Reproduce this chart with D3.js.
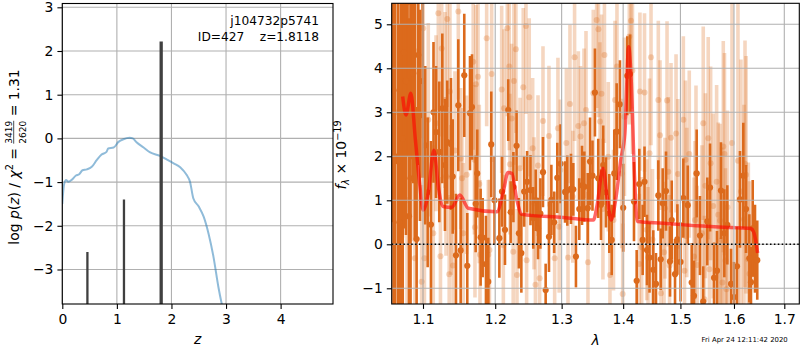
<!DOCTYPE html>
<html>
<head>
<meta charset="utf-8">
<script src="https://cdn.jsdelivr.net/npm/d3@7"></script>
<style>
body { margin: 0; background: #fff; }
text { font-family: "DejaVu Sans", sans-serif; white-space: pre; }
</style>
</head>
<body>
<svg id="chart" width="800" height="350"></svg>
<script>
// ---- left panel: redshift probability ----
var pzZ = [0.0, 0.03, 0.067, 0.11, 0.17, 0.25, 0.31, 0.37, 0.45, 0.54, 0.63, 0.72, 0.81, 0.84, 0.94,
  1.03, 1.12, 1.23, 1.29, 1.36, 1.49, 1.61, 1.79, 1.91, 2.04, 2.16, 2.28, 2.34, 2.40, 2.50, 2.59,
  2.68, 2.77, 2.86, 2.92, 2.96];
var pzLog = [-1.5, -1.07, -0.95, -0.99, -0.95, -0.85, -0.82, -0.73, -0.71, -0.65, -0.50, -0.37, -0.31, -0.23, -0.21,
  -0.08, -0.02, 0.015, 0.0, -0.09, -0.21, -0.32, -0.40, -0.48, -0.57, -0.66, -0.84, -0.99, -1.37, -1.56, -1.79,
  -2.18, -2.71, -3.40, -3.78, -4.0];
var peakZ = [0.46, 1.13, 1.8118];
var peakLog = [-2.6, -1.4, 2.22];
var zTicks = [0, 1, 2, 3, 4];
var pzTicks = [-3, -2, -1, 0, 1, 2, 3];

// ---- right panel: spectrum ----
var darkWave = [1.0597,1.0616,1.0635,1.0674,1.0693,1.0712,1.0735,1.0751,1.0777,1.0797,
  1.0816,1.0836,1.0855,1.0872,1.0894,1.0916,1.0938,
  1.0960,1.0995,1.1030,1.1062,1.1106,1.1140,1.1174,1.1218,1.1259,1.1295,
  1.1326,1.1377,1.1401,1.1446,1.1478,1.1511,1.1561,1.1603,1.1641,1.1669,
  1.1721,1.1743,1.1791,1.1820,1.1867,1.1900,1.1943,1.1990,1.2060,1.2099,
  1.2142,1.2190,1.2225,1.2266,1.2313,1.2347,1.2384,1.2426,1.2470,1.2521,
  1.2563,1.2600,1.2635,1.2671,1.2711,1.2752,1.2803,1.2840,1.2883,1.2932,
  1.2983,1.3053,1.3089,1.3147,1.3184,1.3226,1.3279,1.3323,1.3360,1.3415,
  1.3452,1.3492,1.3532,1.3586,1.3631,1.3668,1.3713,1.3768,1.3808,1.3851,
  1.3891,1.3946,1.4001,1.4070,1.4116,1.4184,1.4230,1.4275,1.4333,1.4365,
  1.4408,1.4452,1.4518,1.4565,1.4606,1.4648,1.4683,1.4742,1.4813,1.4844,
  1.4903,1.4945,1.5002,1.5053,1.5133,1.5205,1.5247,1.5297,1.5357,1.5418,
  1.5494,1.5545,1.5620,1.5676,1.5751,1.5815,1.5872,1.5943,1.6000,1.6058,
  1.6116,1.6181,1.6234,1.6299,1.6331,1.6365,1.6410,1.6455];
var darkFlux = [6.5,3.5,2.0,1.89,0.5,3.0,2.4,4.36,3.71,5.5,
  0.64,1.5,4.93,3.89,2.9,0.12,4.3,
  2.93,3.71,2.25,1.18,0.45,3.0,2.55,2.10,3.09,1.8,
  2.32,2.28,1.54,-0.25,3.16,-0.14,3.84,-0.49,2.98,3.12,
  0.92,1.61,0.16,0.15,-0.45,-0.85,2.27,1.0,0.14,1.2,
  0.33,3.05,0.73,1.3,2.24,0.25,-0.2,1.20,1.42,1.23,
  0.6,1.0,0.36,0.70,1.64,-1.04,0.17,1.01,0.5,1.51,
  1.83,1.19,1.22,1.26,1.25,-0.28,0.80,1.34,1.31,0.82,
  1.88,1.56,3.45,1.50,0.9,1.80,1.18,0.70,0.10,1.61,
  2.56,3.18,0.83,3.83,3.87,0.97,-0.83,1.37,0.10,1.42,
  -0.13,-0.3,-0.58,-0.9,1.11,-0.34,0.93,1.21,-0.39,0.55,
  -0.68,0.11,-0.4,1.05,0.89,-0.87,-1.17,1.61,0.2,-1.30,
  0.52,1.29,-0.76,-0.6,1.22,0.25,0.44,-0.9,-1.2,-0.5,
  1.02,1.56,0.8,-0.32,-0.86,0.36,-0.10,-0.36];
var darkErr = [6,5,5,5,4.5,4.5,4,4,3.5,3.5,
  4.5,4,3,2.5,2.8,3,2.5,
  2.4,2.2,1.8,1.7,1.9,1.6,1.5,1.6,1.7,1.5,
  1.4,1.5,1.3,1.4,1.5,1.2,1.4,1.2,1.3,1.2,
  1.1,1.0,1.1,0.9,1.1,1.0,1.2,1.0,0.9,0.8,
  0.8,0.7,0.7,0.8,0.8,0.8,0.9,0.8,0.7,0.8,
  0.7,0.7,0.7,0.8,0.8,0.6,0.8,0.8,0.7,0.8,
  0.9,0.7,0.8,0.8,0.6,0.7,0.7,0.9,0.8,0.8,
  1.0,0.8,1.0,0.9,0.8,0.9,0.8,0.9,0.8,1.0,
  1.1,1.0,1.0,0.9,0.9,0.9,0.7,0.8,0.8,0.8,
  0.8,0.8,0.9,0.7,0.8,0.7,0.8,0.9,0.8,0.9,
  0.8,0.8,0.9,0.9,0.9,0.9,0.8,1.0,0.9,0.8,
  1.0,1.0,0.8,0.9,1.1,1.0,0.9,0.8,0.8,0.9,
  1.1,1.2,1.0,1.0,0.8,1.1,1.0,0.9];

var lightWave = [1.0635,1.0699,1.0732,1.0790,1.0829,1.0872,1.0894,1.0916,1.0982,1.1003,
  1.1019,1.1070,1.1137,1.1174,1.1205,1.1234,1.1251,1.1295,1.1309,1.1326,
  1.1353,1.1363,1.1377,1.1405,1.1432,1.1478,1.1511,1.1529,1.1547,1.1594,
  1.1686,1.1703,1.1711,1.1725,1.1754,1.1772,1.1782,1.1877,1.1900,1.1917,
  1.1949,1.2094,1.2118,1.2128,1.2176,1.2205,1.2215,1.2240,1.2263,1.2274,
  1.2303,1.2319,1.2364,1.2412,1.2453,1.2463,1.2502,1.2554,1.2574,1.2596,
  1.2635,1.2660,1.2711,1.2803,1.2891,1.2942,1.2961,1.2980,1.3074,1.3100,
  1.3131,1.3176,1.3204,1.3264,1.3299,1.3355,1.3387,1.3419,1.3505,1.3560,
  1.3589,1.3614,1.3639,1.3663,1.3688,1.3751,1.3779,1.3838,1.3863,1.3896,
  1.3975,1.3992,1.4022,1.4104,1.4133,1.4158,1.4275,1.4286,1.4316,1.4365,
  1.4403,1.4426,1.4452,1.4478,1.4504,1.4606,1.4636,1.4653,1.4707,1.4724,
  1.4760,1.4783,1.4805,1.4831,1.4921,1.4955,1.5053,1.5074,1.5092,1.5115,
  1.5161,1.5247,1.5266,1.5284,1.5307,1.5394,1.5418,1.5440,1.5459,1.5511,
  1.5533,1.5556,1.5604,1.5669,1.5700,1.5732,1.5764,1.5779,1.5795,1.5818,
  1.5837,1.5856,1.5875,1.5962,1.6077,1.6135,1.6194,1.6214,1.6234,1.6279,1.6303];
var lightFlux = [3.0,4.8,4.15,1.0,2.5,2.67,-0.32,4.38,-0.85,4.91,
  -0.32,2.83,0.25,2.75,5.25,-0.27,4.45,3.28,1.54,5.12,
  -0.68,3.47,1.01,-0.48,2.13,5.29,1.95,1.50,0.25,1.58,
  4.15,1.92,0.39,3.64,3.81,1.37,-0.24,4.68,-0.24,-0.13,
  3.87,3.52,-0.02,3.09,4.91,4.04,1.82,2.86,-0.17,3.71,
  4.43,-0.70,1.73,3.57,4.96,-0.36,3.34,2.18,0.93,-0.92,
  1.79,-0.77,2.80,2.46,-0.32,2.64,0.40,1.69,2.30,-0.30,
  3.19,1.08,4.25,2.69,2.45,2.75,3.05,-0.41,3.43,5.10,
  4.89,2.79,3.42,0.80,4.30,1.99,-0.70,0.55,3.28,4.04,
  1.61,-1.13,2.90,4.72,5.08,3.95,-0.45,3.47,-0.07,3.45,
  0.33,-0.30,2.07,4.25,0.11,3.28,2.48,-1.11,-0.18,0.82,
  3.27,1.65,-0.48,2.42,2.52,1.60,2.83,-0.60,1.92,0.95,
  2.05,-0.28,0.55,1.61,-0.47,0.25,2.75,-1.25,1.33,2.41,
  -0.57,1.84,0.87,1.42,0.67,0.54,0.10,-0.87,2.22,2.05,
  -0.37,-1.02,0.84,2.3,1.9,1.2,0.57,1.83,1.58,-0.34,-0.67];
var lightErr = [5,5,4,4,4,2.6,2.5,3,2.2,2.5,
  2.2,2.2,2,2,2.2,1.8,2,2,1.8,2,
  1.8,2,1.7,1.7,1.8,2,1.6,1.6,1.6,1.8,
  2,1.7,1.6,1.8,1.8,1.8,1.7,2,1.7,1.6,
  2,1.9,1.6,1.8,2,1.9,1.6,1.7,1.6,1.9,
  1.9,1.5,1.6,1.8,2,1.5,1.8,1.6,1.5,1.5,
  1.6,1.5,1.7,1.6,1.5,1.6,1.5,1.6,1.7,1.5,
  1.8,1.5,1.9,1.7,1.6,1.7,1.8,1.6,1.9,2,
  2,1.8,1.8,1.6,2,1.7,1.6,1.6,1.8,2,
  1.7,1.6,1.8,2,2,1.9,1.6,1.8,1.6,1.8,
  1.6,1.6,1.7,2,1.6,1.8,1.7,1.6,1.6,1.6,
  1.8,1.7,1.6,1.7,1.8,1.7,1.9,1.7,1.8,1.7,
  1.9,1.8,1.8,2,1.8,2,2.2,1.9,2.1,2.3,
  2,2.2,2.1,2.2,2.1,2.2,2.1,2,2.4,2.3,
  2.1,2,2.2,3.2,3.6,3.0,2.6,2.8,2.7,2.2,2.1];

var modelWave = [1.0734,1.0777,1.0840,1.0900,1.0960,1.1002,1.1070,1.1146,1.1205,1.1270,1.1387,1.1500,
  1.1616,1.2024,1.2119,1.2185,1.2243,1.2317,1.2392,1.3025,1.3508,1.3564,1.3664,1.3732,1.3800,
  1.3874,1.3960,1.4029,1.4093,1.4134,1.4193,1.4240,1.4699,1.5298,1.5924,1.6325,1.6393,1.6463];
var modelFlux = [3.36,2.94,3.43,2.37,1.31,0.78,1.16,2.14,1.31,0.86,0.84,1.12,
  0.82,0.74,1.20,1.63,1.61,1.01,0.68,0.61,0.55,0.86,1.73,1.08,0.55,
  1.01,1.92,2.52,4.49,3.81,1.54,0.52,0.48,0.42,0.38,0.36,0.25,-0.20];
var waveTicks = [1.1, 1.2, 1.3, 1.4, 1.5, 1.6, 1.7];
var fluxTicks = [-1, 0, 1, 2, 3, 4, 5];

var orange = "#dc6a1c";
var gridColor = "#b0b0b0";
var svg = d3.select("#chart");

var styleAxis = function(g) {
  g.select(".domain").remove();
  g.selectAll(".tick line").attr("stroke", "#000").attr("stroke-width", 1.1);
  g.selectAll(".tick text").attr("fill", "#000")
    .style("font-size", "13.9px").style("font-family", "DejaVu Sans");
};

// lays out a row of text pieces, returns its length
var mathRow = function(g, pieces) {
  var x = 0;
  pieces.forEach(function(p) {
    if (p.frac) {
      var num = g.append("text").attr("y", -p.up).style("font-size", p.size + "px").text(p.frac[0]);
      var den = g.append("text").attr("y", p.down).style("font-size", p.size + "px").text(p.frac[1]);
      var w = Math.max(num.node().getComputedTextLength(), den.node().getComputedTextLength());
      num.attr("x", x + w / 2).attr("text-anchor", "middle");
      den.attr("x", x + w / 2).attr("text-anchor", "middle");
      g.append("line").attr("x1", x).attr("x2", x + w)
        .attr("y1", -p.bar).attr("y2", -p.bar)
        .attr("stroke", "#000").attr("stroke-width", 0.7);
      x += w;
    } else {
      var t = g.append("text").attr("x", x).attr("y", p.dy || 0)
        .style("font-size", (p.size || 13.9) + "px")
        .style("font-style", p.it ? "italic" : "normal")
        .text(p.t);
      x += t.node().getComputedTextLength();
    }
  });
  return x;
};

// ================= left panel =================
var xL = d3.scaleLinear().domain([0, 4.96]).range([62.3, 333]);
var yL = d3.scaleLinear().domain([-3.79, 3.087]).range([304, 3.5]);

svg.append("clipPath").attr("id", "clipL").append("rect")
  .attr("x", 62.3).attr("y", 3.5).attr("width", 270.7).attr("height", 300.5);

var gridL = svg.append("g").attr("stroke", gridColor).attr("stroke-width", 1.1);
gridL.selectAll(".v").data(zTicks).enter().append("line")
  .attr("x1", function(d) { return xL(d); }).attr("x2", function(d) { return xL(d); })
  .attr("y1", 3.5).attr("y2", 304);
gridL.selectAll(".h").data(pzTicks).enter().append("line")
  .attr("x1", 62.3).attr("x2", 333)
  .attr("y1", function(d) { return yL(d); }).attr("y2", function(d) { return yL(d); });

var pzData = pzZ.map(function(z, i) { return {z: z, v: pzLog[i]}; });
var linePz = d3.line()
  .x(function(d) { return xL(d.z); })
  .y(function(d) { return yL(d.v); })
  .curve(d3.curveMonotoneX);
svg.append("path").datum(pzData)
  .attr("clip-path", "url(#clipL)")
  .attr("d", linePz)
  .attr("fill", "none")
  .attr("stroke", "#1f77b4").attr("stroke-opacity", 0.5)
  .attr("stroke-width", 2);

svg.append("g").attr("clip-path", "url(#clipL)")
  .selectAll("line").data(peakZ).enter().append("line")
  .attr("x1", function(d) { return xL(d); }).attr("x2", function(d) { return xL(d); })
  .attr("y1", yL(-3.79))
  .attr("y2", function(d, i) { return yL(peakLog[i]); })
  .attr("stroke", "#404040")
  .attr("stroke-width", function(d, i) { return i == 2 ? 3.3 : 2.3; });

svg.append("g").attr("transform", "translate(0,304)")
  .call(d3.axisBottom(xL).tickValues(zTicks).tickFormat(d3.format("d")).tickSize(4.9).tickPadding(5.5))
  .call(styleAxis);
svg.append("g").attr("transform", "translate(62.3,0)")
  .call(d3.axisLeft(yL).tickValues(pzTicks).tickFormat(d3.format("d")).tickSize(4.9).tickPadding(4))
  .call(styleAxis);

svg.append("rect").attr("x", 62.3).attr("y", 3.5).attr("width", 270.7).attr("height", 300.5)
  .attr("fill", "none").attr("stroke", "#000").attr("stroke-width", 1.1);

svg.append("text").attr("x", 319).attr("y", 24.5).attr("text-anchor", "end")
  .style("font-size", "12.2px").text("j104732p5741");
svg.append("text").attr("x", 319).attr("y", 41).attr("text-anchor", "end")
  .style("font-size", "12.2px").text("ID=427    z=1.8118");

svg.append("text").attr("x", 197.6).attr("y", 344).attr("text-anchor", "middle")
  .style("font-size", "13.9px").style("font-style", "italic").text("z");

var labL = svg.append("g").attr("transform", "translate(18.5,157) rotate(-90)");
var labLIn = labL.append("g");
var lenL = mathRow(labLIn, [
  {t: "log "}, {t: "p", it: true}, {t: "("}, {t: "z", it: true}, {t: ") / "},
  {t: "\u03c7", it: true}, {t: "2", size: 9.7, dy: -5.5}, {t: " = "},
  {frac: ["3419", "2620"], size: 9, up: 6.2, down: 7.2, bar: 4.8},
  {t: " = 1.31"}
]);
labLIn.attr("transform", "translate(" + (-lenL / 2) + ",0)");

// ================= right panel =================
var xR = d3.scaleLog().domain([1.0593, 1.731]).range([391.7, 799.3]);
var yR = d3.scaleLinear().domain([-1.357, 5.477]).range([304, 3.3]);

svg.append("clipPath").attr("id", "clipR").append("rect")
  .attr("x", 391.7).attr("y", 3.3).attr("width", 407.6).attr("height", 300.7);

var lightData = lightWave.map(function(w, i) { return {w: w, f: lightFlux[i], e: lightErr[i]}; });
var darkData = darkWave.map(function(w, i) { return {w: w, f: darkFlux[i], e: darkErr[i]}; });

var plotR = svg.append("g").attr("clip-path", "url(#clipR)");

plotR.append("g").selectAll("line").data(lightData).enter().append("line")
  .attr("x1", function(d) { return xR(d.w); }).attr("x2", function(d) { return xR(d.w); })
  .attr("y1", function(d) { return yR(d.f - d.e); })
  .attr("y2", function(d) { return yR(d.f + d.e); })
  .attr("stroke", orange).attr("stroke-opacity", 0.28).attr("stroke-width", 3.6);
plotR.append("g").selectAll("circle").data(lightData).enter().append("circle")
  .attr("cx", function(d) { return xR(d.w); })
  .attr("cy", function(d) { return yR(d.f); })
  .attr("r", 3)
  .attr("fill", orange).attr("fill-opacity", 0.28);

plotR.append("g").selectAll("line").data(darkData).enter().append("line")
  .attr("x1", function(d) { return xR(d.w); }).attr("x2", function(d) { return xR(d.w); })
  .attr("y1", function(d) { return yR(d.f - d.e); })
  .attr("y2", function(d) { return yR(d.f + d.e); })
  .attr("stroke", orange).attr("stroke-width", 2.6);
plotR.append("g").selectAll("circle").data(darkData).enter().append("circle")
  .attr("cx", function(d) { return xR(d.w); })
  .attr("cy", function(d) { return yR(d.f); })
  .attr("r", 3.1)
  .attr("fill", orange);

var modelData = modelWave.map(function(w, i) { return {w: w, f: modelFlux[i]}; });
var lineModel = d3.line()
  .x(function(d) { return xR(d.w); })
  .y(function(d) { return yR(d.f); })
  .curve(d3.curveMonotoneX);
plotR.append("path").datum(modelData)
  .attr("d", lineModel)
  .attr("fill", "none")
  .attr("stroke", "#ff0000").attr("stroke-opacity", 0.6)
  .attr("stroke-width", 3.5).attr("stroke-linejoin", "round");

var gridR = svg.append("g").attr("stroke", gridColor).attr("stroke-width", 1.1);
gridR.selectAll(".v").data(waveTicks).enter().append("line")
  .attr("x1", function(d) { return xR(d); }).attr("x2", function(d) { return xR(d); })
  .attr("y1", 3.3).attr("y2", 304);
gridR.selectAll(".h").data(fluxTicks).enter().append("line")
  .attr("x1", 391.7).attr("x2", 799.3)
  .attr("y1", function(d) { return yR(d); }).attr("y2", function(d) { return yR(d); });

svg.append("line")
  .attr("x1", 391.7).attr("x2", 799.3)
  .attr("y1", yR(0)).attr("y2", yR(0))
  .attr("stroke", "#000").attr("stroke-width", 1.5)
  .attr("stroke-dasharray", "1.5,2.4");

svg.append("g").attr("transform", "translate(0,304)")
  .call(d3.axisBottom(xR).tickValues(waveTicks).tickFormat(d3.format(".1f")).tickSize(4.9).tickPadding(5.5))
  .call(styleAxis);
svg.append("g").attr("transform", "translate(391.7,0)")
  .call(d3.axisLeft(yR).tickValues(fluxTicks).tickFormat(d3.format("d")).tickSize(4.9).tickPadding(4))
  .call(styleAxis);

svg.append("rect").attr("x", 391.7).attr("y", 3.3).attr("width", 407.6).attr("height", 300.7)
  .attr("fill", "none").attr("stroke", "#000").attr("stroke-width", 1.1);

svg.append("text").attr("x", 595.5).attr("y", 345).attr("text-anchor", "middle")
  .style("font-size", "13.9px").style("font-style", "italic").text("\u03bb");

var labR = svg.append("g").attr("transform", "translate(346,155) rotate(-90)");
var labRIn = labR.append("g");
var lenR = mathRow(labRIn, [
  {t: "f", it: true}, {t: "\u03bb", it: true, size: 9.7, dy: 3},
  {t: " \u00d7 10"}, {t: "\u221219", size: 9.7, dy: -5.5}
]);
labRIn.attr("transform", "translate(" + (-lenR / 2) + ",0)");

svg.append("text").attr("x", 787.7).attr("y", 341.5).attr("text-anchor", "end")
  .style("font-size", "6.9px").text("Fri Apr 24 12:11:42 2020");
</script>
</body>
</html>
